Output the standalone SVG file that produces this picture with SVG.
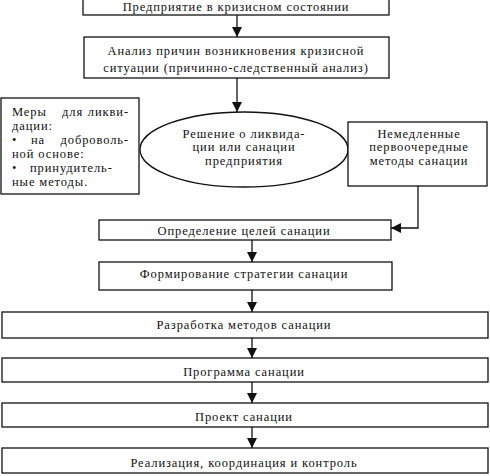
<svg xmlns="http://www.w3.org/2000/svg" width="490" height="476" viewBox="0 0 490 476">
<defs>
<style>
.b{fill:#fff;stroke:#111;stroke-width:1.3}
.t{font-family:"Liberation Serif","Times New Roman",serif;font-size:12.5px;letter-spacing:0.9px;fill:#111;text-anchor:middle}
.l{font-family:"Liberation Serif","Times New Roman",serif;font-size:12.5px;letter-spacing:0.9px;fill:#111}
.c{fill:none;stroke:#111;stroke-width:1.3}
</style>
<marker id="ah" viewBox="0 0 10 10" refX="10" refY="5" markerWidth="10" markerHeight="10" markerUnits="userSpaceOnUse" orient="auto">
<path d="M0,0 L10,5 L0,10 Z" fill="#111"/>
</marker>
</defs>
<rect width="490" height="476" fill="#fff"/>
<g id="n1"><rect class="b" x="83" y="-3" width="306" height="18"/><text class="t" x="236" y="10.5">Предприятие в кризисном состоянии</text></g>
<g id="n2"><rect class="b" x="84" y="37" width="305" height="41"/><text class="t" x="236" y="54.5">Анализ причин возникновения кризисной</text><text class="t" x="236" y="71.5">ситуации (причинно-следственный анализ)</text></g>
<g id="n3"><ellipse class="b" cx="244" cy="149.5" rx="104" ry="37.5"/><text class="t" x="244" y="137.5">Решение о ликвида-</text><text class="t" x="244" y="151">ции или санации</text><text class="t" x="244" y="164.5">предприятия</text></g>
<g id="n4"><rect class="b" x="1" y="98" width="138" height="96"/>
<text class="l" y="116"><tspan x="12">Меры</tspan><tspan x="62">для</tspan><tspan x="129" text-anchor="end">ликви-</tspan></text>
<text class="l" x="12" y="130">дации:</text>
<text class="l" y="144"><tspan x="12">•</tspan><tspan x="31">на</tspan><tspan x="129" text-anchor="end">доброволь-</tspan></text>
<text class="l" x="12" y="158">ной основе:</text>
<text class="l" y="171.5"><tspan x="12">•</tspan><tspan x="30">принудитель-</tspan></text>
<text class="l" x="12" y="185.5">ные методы.</text></g>
<g id="n5"><rect class="b" x="348" y="122" width="139" height="64"/><text class="t" x="419" y="137.5">Немедленные</text><text class="t" x="419" y="151">первоочередные</text><text class="t" x="419" y="164.5">методы санации</text></g>
<g id="n6"><rect class="b" x="99" y="220" width="292" height="20"/><text class="t" x="244" y="234.5">Определение целей санации</text></g>
<g id="n7"><rect class="b" x="99" y="262" width="293" height="28"/><text class="t" x="244" y="277.5">Формирование стратегии санации</text></g>
<g id="n8"><rect class="b" x="2" y="312" width="486" height="26"/><text class="t" x="244" y="328.5">Разработка методов санации</text></g>
<g id="n9"><rect class="b" x="2" y="358" width="486" height="24"/><text class="t" x="244" y="376">Программа санации</text></g>
<g id="n10"><rect class="b" x="2" y="403" width="486" height="24"/><text class="t" x="244" y="421">Проект санации</text></g>
<g id="n11"><rect class="b" x="2" y="448" width="486" height="25"/><text class="t" x="244" y="467">Реализация, координация и контроль</text></g>
<g id="connectors">
<path class="c" d="M237,15 V37" marker-end="url(#ah)"/>
<path class="c" d="M237,78 V112" marker-end="url(#ah)"/>
<path class="c" d="M418,186 V228 H391" marker-end="url(#ah)"/>
<path class="c" d="M252,240 V262" marker-end="url(#ah)"/>
<path class="c" d="M252,290 V312" marker-end="url(#ah)"/>
<path class="c" d="M252,338 V358" marker-end="url(#ah)"/>
<path class="c" d="M252,382 V403" marker-end="url(#ah)"/>
<path class="c" d="M252,427 V448" marker-end="url(#ah)"/>
</g>
</svg>
